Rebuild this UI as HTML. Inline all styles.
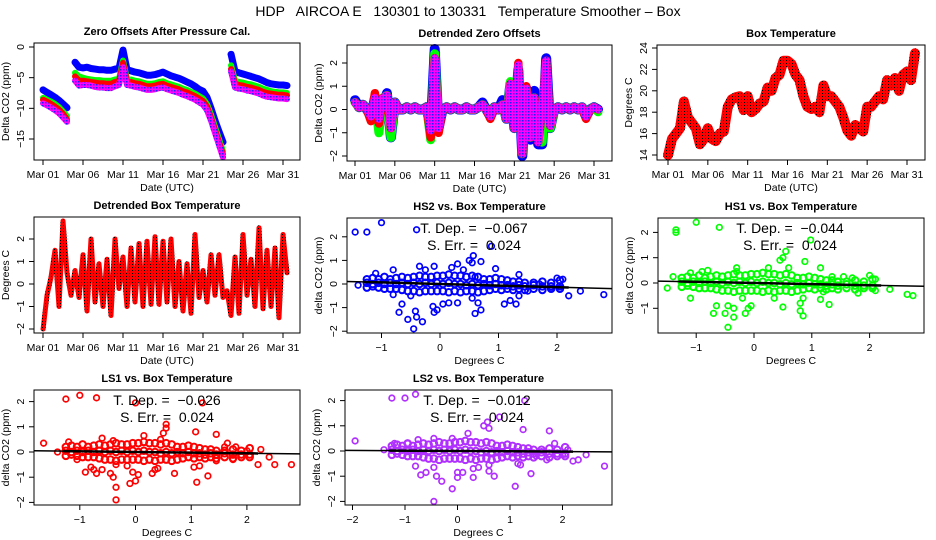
<!DOCTYPE html>
<html><head><meta charset="utf-8"><style>
html,body{margin:0;padding:0;background:#fff;}
svg{display:block;font-family:"Liberation Sans",sans-serif;}
</style></head><body>
<svg id="chart" width="936" height="540" viewBox="0 0 936 540" xmlns="http://www.w3.org/2000/svg">
<defs>
<pattern id="magblue" width="3" height="3" patternUnits="userSpaceOnUse"><rect width="3" height="3" fill="#ff00ff"/><rect width="1.5" height="1.5" fill="#2020ff"/></pattern>
<pattern id="redblack" width="3" height="3" patternUnits="userSpaceOnUse"><rect width="3" height="3" fill="#ff0000"/><rect width="1" height="1" fill="#000"/></pattern>
</defs>
<text x="468" y="16" font-size="14" text-anchor="middle" style="white-space:pre">HDP   AIRCOA E   130301 to 130331   Temperature Smoother – Box</text>
<g id="root"></g>
</svg>
<script>
// ---------- data ----------
const dateTickDays = [0,5,10,15,20,25,30];
const dateTickLabels = ["Mar 01","Mar 06","Mar 11","Mar 16","Mar 21","Mar 26","Mar 31"];
const zeroHS2 = [-7,-7.4,-7.8,-8.2,-8.7,-9.3,-9.9,null,-2.5,-3.3,
 -3.4,-3.3,-3.5,-3.6,-3.7,-3.7,-3.8,-3.8,-3.6,-3.5,
 -0.5,-3.7,-3.9,-4.1,-4.2,-4.4,-4.6,-4.6,-4.5,-4.3,
 -4.1,-4.4,-4.7,-4.9,-5.1,-5.4,-5.7,-6.0,-6.4,-6.9,
 -7.2,-8.2,-10,-12,-13.8,-15.5,null,-1.2,-4,-4.2,
 -4.4,-4.6,-4.8,-5,-5.2,-5.5,-5.8,-6,-6.1,-6.2,
 -6.2,-6.3];
const zeroHS1 = [-8.3,-8.6,-8.9,-9.3,-9.8,-10.5,-11.3,null,-4.2,-4.8,
 -5,-5.2,-5.3,-5.4,-5.4,-5.5,-5.5,-5.5,-5.3,-5.2,
 -2.2,-5.2,-5.3,-5.5,-5.6,-5.8,-6,-6,-5.9,-5.7,
 -5.6,-5.9,-6.1,-6.3,-6.5,-6.8,-7,-7.3,-7.6,-8,
 -8.4,-9.3,-11,-13,-15,-17,null,-3,-5.5,-5.7,
 -5.8,-6,-6.1,-6.3,-6.5,-6.8,-7,-7.2,-7.3,-7.4,
 -7.4,-7.5];
const zeroLS1 = [-8.6,-8.9,-9.3,-9.7,-10.2,-10.9,-11.8,null,-4.8,-5.5,
 -5.5,-5.6,-5.7,-5.8,-5.9,-5.9,-6,-6,-5.7,-5.6,
 -2.6,-5.6,-5.7,-5.9,-6,-6.2,-6.4,-6.4,-6.3,-6.1,
 -6,-6.3,-6.5,-6.7,-6.9,-7.2,-7.4,-7.7,-8,-8.4,
 -8.8,-9.7,-11.5,-13.5,-15.5,-17.5,null,-3.6,-6,-6.2,
 -6.3,-6.5,-6.6,-6.8,-7,-7.3,-7.5,-7.6,-7.7,-7.8,
 -7.8,-7.9];
const zeroLS2 = [-9.2,-9.5,-9.9,-10.3,-10.8,-11.5,-12.2,null,-5.5,-6.3,
 -6.2,-6.2,-6.3,-6.5,-6.6,-6.6,-6.7,-6.7,-6.4,-6.2,
 -3.3,-6.2,-6.3,-6.5,-6.6,-6.8,-7,-7,-6.9,-6.7,
 -6.6,-6.9,-7.1,-7.3,-7.5,-7.8,-8,-8.3,-8.6,-9,
 -9.4,-10.3,-12,-14,-16,-18,null,-4,-6.6,-6.8,
 -6.9,-7.1,-7.2,-7.4,-7.6,-7.9,-8.1,-8.2,-8.3,-8.4,
 -8.4,-8.5];
const detHS2 = [0.4,0.1,0.2,0,-0.3,0.5,-0.5,0.1,0.7,-1.2,
 0.3,0,0,0.1,0,0.1,0,0,0.1,-0.9,
 2.6,-0.8,0,0.1,0,0.1,0,0,0.1,0,
 0,0.1,0.3,0,-0.3,0.1,0,0.4,-0.4,1.1,
 -0.8,1.7,-2.0,0.9,-1.3,0.8,-1.5,-1.5,2.2,-0.8,
 0,0.1,0,0.1,0,0.1,0,0.1,-0.3,0,
 0.1,0];
const detHS1 = [0.3,0.1,0.2,0,-0.4,0.5,-1.0,0.5,0.6,-1.2,
 0.3,0,0,0.1,0,0.1,0,0,0.1,-1.3,
 2.4,-0.8,0,0.1,0,0.1,0,0,0.1,0,
 0,0.1,0.2,0,-0.3,0.1,0,0.2,-0.4,1.2,
 -0.8,1.7,-1.9,0.9,-1.2,0.5,-1.3,-1.4,2.0,-0.8,
 0,0.1,0,0.1,0,0.1,0,0.1,-0.3,0,
 0.1,-0.1];
const detLS1 = [0.3,0.1,0.2,0,-0.5,0.7,-0.6,0.5,0.6,-0.8,
 0.3,0,0,0.1,0,0.1,0,0,0.1,-1.2,
 2.2,-1.0,0,0.1,0,0.1,0,0,0.1,0,
 0,0.1,0.2,0,-0.4,0.1,0,0.2,-0.4,1.1,
 -0.8,2.0,-1.9,1.0,-1.2,0.5,-1.4,0,2.1,-0.7,
 0,0.1,0,0.1,0,0.1,0,0.1,-0.4,0,
 0.1,0];
const detLS2 = [0.3,0.1,0.2,0,-0.3,0.5,-0.4,0.5,0.6,-0.8,
 0.3,0,0,0.1,0,0.1,0,0,0.1,-0.9,
 2.2,-0.8,0,0.1,0,0.1,0,0,0.1,0,
 0,0.1,0.2,0,-0.3,0.1,0,0.2,-0.4,1.1,
 -0.8,1.9,-1.9,0.9,-1.2,0.5,-1.4,0,2.1,-0.7,
 0,0.1,0,0.1,0,0.1,0,0.1,-0.3,0,
 0.1,0];
const boxTemp = [14,15.5,16,16.5,19,17.5,17,16.5,15,15.5,
 16.5,15.5,15.3,16,16.2,18.5,19.2,19.4,19.5,18.2,
 19.5,18,18.3,18.8,19,20.3,20,21.2,21.5,22.8,
 22.8,22.5,21.5,21,19.5,18.5,18.3,18.5,18,20.5,
 19.5,19.5,19,18.5,17.5,16.3,15.8,16.8,16.5,16.2,
 18.5,18.5,19,19.5,19.2,21,20.5,21.2,20,21.5,
 21.8,21,23.5];
const detTemp = [-2,-0.5,0.3,1.5,-1,2.8,0.5,-0.5,0.6,-0.6,1.3,-1.2,2,-0.8,0.9,-1,1.1,-1.4,2,-0.2,
 1.2,-1,1.6,-0.8,1.8,-1,1.9,-0.9,2.1,-0.9,1.9,-0.8,2,-1,1,-1.2,0.9,-1.3,2.2,-0.6,
 0.6,-0.8,1.3,-0.5,1.3,-0.6,-0.3,-1.4,1.2,-1.3,2.2,-0.5,1.1,-1,2.5,-1.1,1.5,-1,1.6,-1.5,2.2,0.5];
const coreTemp = [-1.25,-1.15,-1.05,-0.95,-0.85,-0.75,-0.65,-0.55,-0.45,-0.35,-0.25,-0.15,-0.05,0.05,0.15,0.25,0.35,0.45,0.55,0.65,0.75,0.85,0.95,1.05,1.15,1.25,1.35,1.45,1.6,1.75,1.9,2.05];
const coreHiA = [0.2,0.25,0.2,0.3,0.2,0.25,0.3,0.25,0.3,0.35,0.3,0.3,0.35,0.35,0.4,0.35,0.35,0.3,0.35,0.3,0.2,0.2,0.25,0.2,0.15,0.1,0.1,0.05,0.05,0.1,0.05,0.15];
const coreMidA = [0.05,0,0.05,0,0.05,0,0.05,0,0.05,0,0.05,0,0.05,0,0.05,0,0,-0.05,0,-0.05,0,-0.05,0,-0.05,-0.05,-0.1,-0.05,-0.1,-0.05,-0.1,-0.1,-0.1];
const coreLoA = [-0.15,-0.1,-0.15,-0.2,-0.2,-0.2,-0.25,-0.3,-0.3,-0.35,-0.3,-0.3,-0.3,-0.3,-0.35,-0.3,-0.35,-0.3,-0.3,-0.35,-0.3,-0.25,-0.2,-0.25,-0.2,-0.25,-0.2,-0.25,-0.2,-0.25,-0.2,-0.2];
const hs2X = [-1.45,-1.25,-1,-0.4,0.88,-0.45,-0.4,-0.55,-0.3,-0.7,-0.42,-0.1,-0.05,-0.12,0.6,0.7,0.55,0.65,0.05,0.15,0.3,1.1,1.2,1.3,1.35,-0.65,-0.8,-0.5,-0.35,-0.25,-0.1,0.3,0.5,0.57,0.55,0.7,0.95,1.35,-0.8,-1.1,2.2,2.4,2.8,2.0,2.1,1.7,1.9,1.5,-1.4,0.4,0.2,0.6];
const hs2Y = [2.2,2.2,2.6,2.3,1.6,-1.9,-1.4,-1.5,-1.6,-1.2,-1.15,-1.2,-1.1,-0.95,-1.25,-1.1,-0.6,-0.8,-0.85,-0.8,-0.8,-0.85,-0.7,-0.85,-0.5,-0.85,-0.45,-0.5,0.75,0.6,0.75,0.85,1.0,1.2,0.9,0.95,0.65,0.4,0.6,0.45,-0.5,-0.3,-0.45,0.25,0.2,0,-0.2,-0.3,-0.05,0.6,0.7,0.3];
const hs1X = [-1.35,-1.35,-1,-0.6,0.98,0.55,0.5,0.45,0.88,1.15,-1.5,-1.1,-0.65,-0.7,-0.5,-0.45,-0.35,-0.45,-0.35,-0.2,-0.15,-0.1,-0.05,0.35,0.5,0.85,0.8,0.8,0.85,1.15,1.3,1.2,2.65,2.75,2.1,2.35,2.0,2.1,1.7,1.55,1.45,-0.3,-0.3,0.25,0.6,-0.9,-0.8,-1.1,-1.4,1.35,1.8];
const hs1Y = [2.0,2.1,2.4,2.2,1.7,1.25,1.0,0.9,0.85,0.6,-0.2,-0.6,-0.9,-1.2,-1.2,-1.75,-1.35,-0.9,-1.0,-0.6,-1.2,-1.0,-0.9,-0.6,-0.95,-1.3,-1.1,-0.8,-0.6,-0.65,-0.85,-0.35,-0.45,-0.5,-0.3,-0.25,0.3,0.15,0.2,0.25,0.05,0.6,0.45,0.6,0.6,0.45,0.5,0.4,0.25,0.25,-0.4];
const ls1X = [-1.65,-1.25,-1.0,-0.7,0.0,1.2,0.55,0.55,0.5,0.45,1.08,1.45,0.15,-0.6,-0.4,-1.2,-1.4,-1.05,-0.9,-0.8,-0.75,-0.7,-0.6,-0.45,-0.4,-0.35,-0.35,-0.1,0,0.05,-0.05,0.3,0.35,0.4,0.7,1.05,1.1,1.3,1.15,1.45,1.75,2.2,2.5,2.8,1.65,1.8,2.0,2.25,2.4,1.6,-0.35,-0.15];
const ls1Y = [0.35,2.1,2.25,2.15,1.95,1.95,1.1,0.95,0.75,0.5,0.8,0.7,0.65,0.55,0.45,0.4,0,-0.3,-0.8,-0.6,-0.7,-0.85,-0.7,-0.85,-1.0,-1.4,-1.9,-1.25,-1.15,-0.9,-0.8,-0.85,-0.7,-0.65,-0.85,-0.6,-1.2,-0.95,-0.55,-0.35,-0.3,-0.5,-0.5,-0.5,0.35,0.2,0.05,0.1,-0.2,0.2,-0.5,-0.55];
const ls2X = [-1.95,-1.25,-1,-0.8,1.28,0.5,0.57,0.6,0.2,1.25,1.75,0.8,-0.75,-0.45,-0.1,-0.8,-0.7,-0.6,-0.45,-0.4,-0.3,-0.45,-0.1,0,0,0.1,0.3,0.3,0.4,0.6,0.7,0.6,1.1,1.15,1.2,1.4,1.7,1.5,2.0,2.2,2.3,2.45,2.8,1.85,2.1,-1.2,-0.95,-1.4];
const ls2Y = [0.4,2.1,2.1,2.25,2.0,1.0,1.15,0.9,0.7,0.85,0.8,1.35,0.45,0.5,0.5,-0.6,-0.95,-0.85,-0.65,-1.0,-1.2,-2.0,-1.5,-1.05,-0.85,-0.85,-0.7,-1.05,-0.65,-0.55,-1.0,-0.8,-1.4,-0.5,-0.55,-0.9,-0.35,-0.2,-0.15,-0.4,-0.35,-0.15,-0.6,0.3,0.05,0.3,0.3,0.05];
const tDep = [-0.067,-0.044,-0.026,-0.012];
const sErr = [0.024,0.024,0.024,0.024];
const fitIntercept = [0.0,0.0,0.0,0.0];

// ---------- helpers ----------
const NS = "http://www.w3.org/2000/svg";
const root = document.getElementById('root');
function el(tag, attrs, parent, text){
  const e = document.createElementNS(NS, tag);
  for (const k in attrs) e.setAttribute(k, attrs[k]);
  if (text !== undefined) e.textContent = text;
  (parent||root).appendChild(e);
  return e;
}
function lin(d0,d1,r0,r1){ return v => r0 + (v-d0)*(r1-r0)/(d1-d0); }

function panel(name, box, sx, sy, xTicks, xLabels, yTicks, title, xTitle, yTitle){
  const g = el('g', {});
  
  
  const t = el('text', {x:(box.l+box.r)/2, y:box.t-8, 'font-size':11, 'font-weight':'bold', 'text-anchor':'middle'}, g, title);
  
  
  const xa = el('g', {}, g);
  
  
  xTicks.forEach((v,i)=>{
    const x = sx(v);
    el('line', {x1:x, x2:x, y1:box.b, y2:box.b+5, stroke:'#000'}, xa);
    el('text', {x:x, y:box.b+18, 'font-size':10.5, 'text-anchor':'middle'}, xa, xLabels[i]);
  });
  const xt = el('text', {x:(box.l+box.r)/2, y:box.b+31, 'font-size':10.5, 'text-anchor':'middle'}, g, xTitle);
  
  
  const ya = el('g', {}, g);
  
  
  yTicks.forEach(v=>{
    const y = sy(v);
    el('line', {x1:box.l-5, x2:box.l, y1:y, y2:y, stroke:'#000'}, ya);
    const lbl = String(v).replace('-', '\u2212');
    el('text', {x:box.l-10, y:y, 'font-size':10.5, 'text-anchor':'middle', transform:`rotate(-90 ${box.l-10} ${y})`}, ya, lbl);
  });
  const cy = (box.t+box.b)/2, cx = box.l-25;
  const yt = el('text', {x:cx, y:cy, 'font-size':10.5, 'text-anchor':'middle', transform:`rotate(-90 ${cx} ${cy})`}, g, yTitle);
  
  
  const plot = el('g', {}, g);
  
  
  const frame = el('rect', {x:box.l, y:box.t, width:box.r-box.l, height:box.b-box.t, fill:'none', stroke:'#000'}, g);
  
  
  return plot;
}
function series(parent, vals, step, sx, sy, stroke, width, name){
  let d = '', pen = false;
  vals.forEach((v,i)=>{
    if (v === null) { pen = false; return; }
    const x = sx(i*step), y = sy(v);
    d += (pen ? 'L' : 'M') + x.toFixed(1) + ' ' + y.toFixed(1) + ' ';
    if (!pen) d += 'l0.1 0 ';
    pen = true;
  });
  const p = el('path', {d:d, fill:'none', stroke:stroke, 'stroke-width':width, 'stroke-linejoin':'round', 'stroke-linecap':'round'}, parent);
  
  
}
function scatter(parent, xs, ys, sx, sy, color, name, r, w){
  const g = el('g', {}, parent);
  
  
  xs.forEach((v,i)=>{
    el('circle', {cx:sx(v), cy:sy(ys[i]), r:r, fill:'none', stroke:color, 'stroke-width':w}, g);
  });
}

// A
{
  const box={l:34,r:300,t:43,b:160};
  const sx=lin(0,30,43,283), sy=lin(0,-15,47,139);
  const p=panel('zero-offsets-panel',box,sx,sy,dateTickDays,dateTickLabels,[0,-5,-10,-15],'Zero Offsets After Pressure Cal.','Date (UTC)','Delta CO2 (ppm)');
  series(p,zeroHS2,0.5,sx,sy,'#0000ff',7,'series-hs2');
  series(p,zeroHS1,0.5,sx,sy,'#00ff00',6,'series-hs1');
  series(p,zeroLS1,0.5,sx,sy,'#ff0000',6,'series-ls1');
  series(p,zeroLS2,0.5,sx,sy,'url(#magblue)',6,'series-ls2');
}
// B
{
  const box={l:347,r:612,t:45,b:161};
  const sx=lin(0,30,355,594), sy=lin(0,2,109.5,63);
  const p=panel('detrended-offsets-panel',box,sx,sy,dateTickDays,dateTickLabels,[-2,-1,0,1,2],'Detrended Zero Offsets','Date (UTC)','Delta CO2 (ppm)');
  series(p,detHS2,0.5,sx,sy,'#0000ff',10,'series-hs2');
  series(p,detHS1,0.5,sx,sy,'#00ff00',9,'series-hs1');
  series(p,detLS1,0.5,sx,sy,'#ff0000',8.5,'series-ls1');
  series(p,detLS2,0.5,sx,sy,'url(#magblue)',8,'series-ls2');
}
// C
{
  const box={l:657,r:925,t:45,b:160};
  const sx=lin(0,30,668,907), sy=lin(14,24,155,48);
  const p=panel('box-temperature-panel',box,sx,sy,dateTickDays,dateTickLabels,[14,16,18,20,22,24],'Box Temperature','Date (UTC)','Degrees C');
  series(p,boxTemp,0.5,sx,sy,'url(#redblack)',10,'series-box-temp');
}
// D
{
  const box={l:34,r:300,t:217,b:333};
  const sx=lin(0,30,43,283), sy=lin(0,2,284,239);
  const p=panel('detrended-box-temp-panel',box,sx,sy,dateTickDays,dateTickLabels,[-2,-1,0,1,2],'Detrended Box Temperature','Date (UTC)','Degrees C');
  series(p,detTemp,0.5,sx,sy,'url(#redblack)',5,'series-detrended-temp');
}
function scatterPanel(name, box, sx, sy, xt, yt, title, xs, ys, hi, mid, lo, color, k, txtX){
  const p=panel(name,box,sx,sy,xt,xt.map(v=>String(v).replace('-','\u2212')),yt,title,'Degrees C','delta CO2 (ppm)');
  scatter(p,coreTemp,hi,sx,sy,color,'core-points-high',3.3,2);
  scatter(p,coreTemp,mid,sx,sy,color,'core-points-mid',3.3,2);
  scatter(p,coreTemp,lo,sx,sy,color,'core-points-low',3.3,2);
  scatter(p,xs,ys,sx,sy,color,'outlier-points',2.8,1.7);
  const f = v => fitIntercept[k] + tDep[k]*v;
  const inv = px => (px - sx(0))/(sx(1)-sx(0));
  const fit = el('line',{x1:box.l,x2:box.r,y1:sy(f(inv(box.l))),y2:sy(f(inv(box.r))),stroke:'#000','stroke-width':1.5},p);
  
  
  const fit2 = el('line',{x1:sx(-1.3),x2:sx(2.2),y1:sy(f(-1.3)),y2:sy(f(2.2)),stroke:'#000','stroke-width':2.5},p);
  
  
  const a = el('text',{x:txtX,y:box.t+15,'font-size':14,'text-anchor':'middle',style:'white-space:pre'},p,'T. Dep. =  ' + tDep[k].toFixed(3).replace('-','\u2212'));
  
  
  const b = el('text',{x:txtX,y:box.t+32,'font-size':14,'text-anchor':'middle',style:'white-space:pre'},p,'S. Err. =  ' + sErr[k].toFixed(3));
  
  
}
scatterPanel('hs2-vs-temp-panel',{l:347,r:612,t:218,b:333},lin(0,1,440,498.5),lin(0,1,284,260.4),[-1,0,1,2],[-2,-1,0,1,2],'HS2 vs. Box Temperature',hs2X,hs2Y,coreHiA,coreMidA,coreLoA,'#0000ff',0,474);
scatterPanel('hs1-vs-temp-panel',{l:658,r:924,t:218,b:333},lin(0,1,754,811.8),lin(0,1,283,257.7),[-1,0,1,2],[-1,0,1,2],'HS1 vs. Box Temperature',hs1X,hs1Y,coreHiA,coreMidA,coreLoA,'#00ff00',1,790);
scatterPanel('ls1-vs-temp-panel',{l:34,r:300,t:390,b:505},lin(0,1,135.5,191.2),lin(0,1,452,426.8),[-1,0,1,2],[-2,-1,0,1,2],'LS1 vs. Box Temperature',ls1X,ls1Y,coreHiA,coreMidA,coreLoA,'#ff0000',2,167);
scatterPanel('ls2-vs-temp-panel',{l:345,r:612,t:390,b:505},lin(0,1,457.5,510),lin(0,1,451,425.8),[-2,-1,0,1,2],[-2,-1,0,1,2],'LS2 vs. Box Temperature',ls2X,ls2Y,coreHiA,coreMidA,coreLoA,'#b030ff',3,477);
</script>
</body></html>
